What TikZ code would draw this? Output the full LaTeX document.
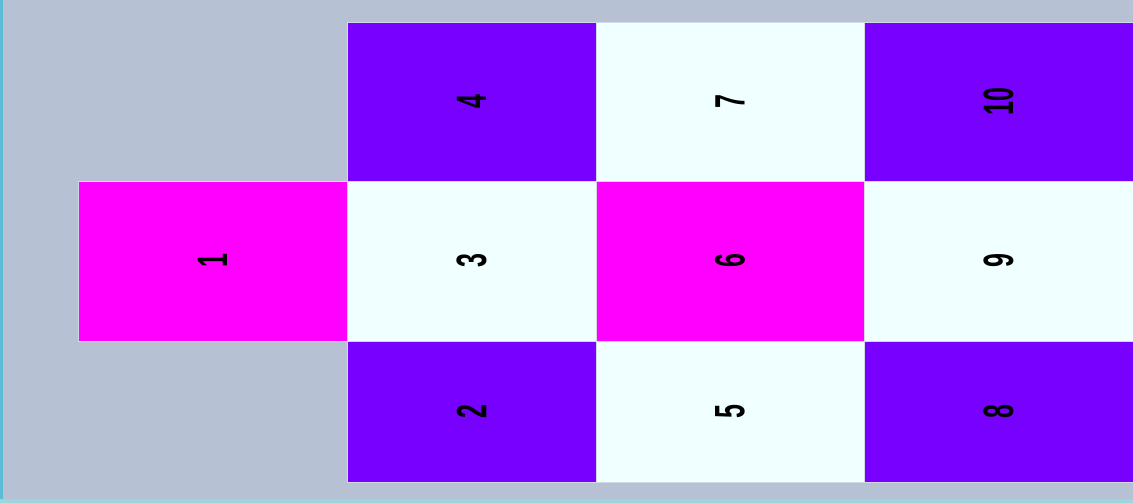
\documentclass[tikz,border=0pt]{standalone}
\usepackage{fontspec}
\setmainfont{Liberation Sans}
\definecolor{bgc}{HTML}{B6C1D3}
\definecolor{purp}{HTML}{7700FF}
\definecolor{mag}{HTML}{FF00FF}
\definecolor{azu}{HTML}{F0FFFF}
\definecolor{edgeL}{HTML}{5CBCD6}
\definecolor{edgeB}{HTML}{9ED4E2}
\newcommand{\numlab}[1]{\rotatebox{90}{\scalebox{1}[1.7]{\fontsize{25}{25}\selectfont\bfseries #1}}}
\tikzset{
  cell/.style={draw=bgc!60!white, line width=0.8pt, inner sep=0pt, outer sep=0pt, text=black},
}
\begin{document}
\begin{tikzpicture}[x=1pt,y=-1pt]
\useasboundingbox (0,0) rectangle (1133,503);
\fill[bgc] (0,0) rectangle (1133,503);
\fill[edgeL] (0,0) rectangle (3,503);
\fill[edgeB] (0,499) rectangle (1133,503);
% column 1
\node[cell, fill=mag, minimum width=269pt, minimum height=160pt] (n1) at (212.5,261) {\numlab{1}};
% column 2
\node[cell, fill=purp, minimum width=249pt, minimum height=159pt] (n4) at (471.5,101.5) {\numlab{4}};
\node[cell, fill=azu, minimum width=249pt, minimum height=160pt] (n3) at (471.5,261) {\numlab{3}};
\node[cell, fill=purp, minimum width=249pt, minimum height=141pt] (n2) at (471.5,411.5) {\numlab{2}};
% column 3
\node[cell, fill=azu, minimum width=268pt, minimum height=159pt] (n7) at (730,101.5) {\numlab{7}};
\node[cell, fill=mag, minimum width=268pt, minimum height=160pt] (n6) at (730,261) {\numlab{6}};
\node[cell, fill=azu, minimum width=268pt, minimum height=141pt] (n5) at (730,411.5) {\numlab{5}};
% column 4
\node[cell, fill=purp, minimum width=269pt, minimum height=159pt] (n10) at (998.5,101.5) {\numlab{10}};
\node[cell, fill=azu, minimum width=269pt, minimum height=160pt] (n9) at (998.5,261) {\numlab{9}};
\node[cell, fill=purp, minimum width=269pt, minimum height=141pt] (n8) at (998.5,411.5) {\numlab{8}};
\end{tikzpicture}
\end{document}
